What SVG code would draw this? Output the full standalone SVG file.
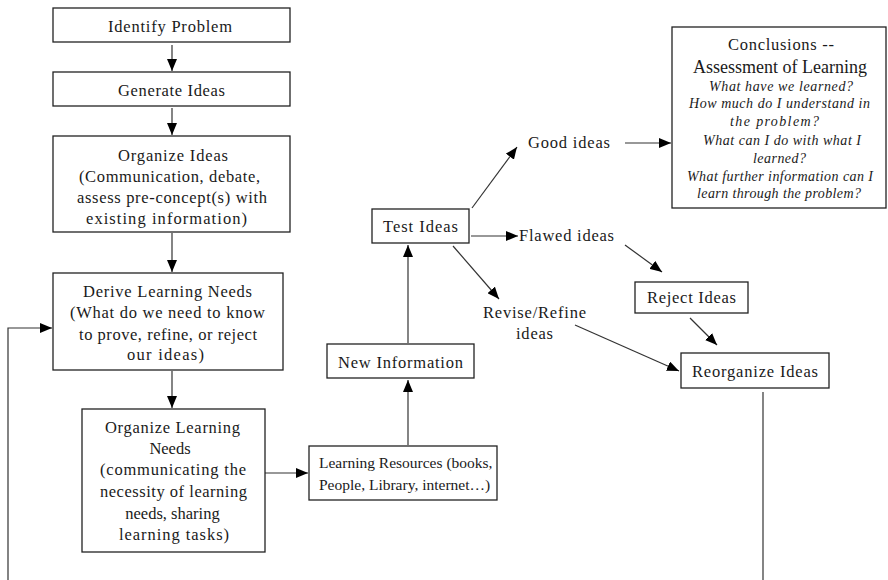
<svg xmlns="http://www.w3.org/2000/svg" width="888" height="580" viewBox="0 0 888 580">
<style>
  .box { fill: #fff; stroke: #222; stroke-width: 1.3; }
  .t { font-family: "Liberation Serif", "Times New Roman", serif; font-size: 16.5px; fill: #1a1a1a; text-anchor: middle; }
  .tl { text-anchor: start; }
  .i { font-family: "Liberation Serif", "Times New Roman", serif; font-size: 14px; font-style: italic; fill: #1a1a1a; text-anchor: middle; }
  .c { stroke: #333; stroke-width: 1.2; fill: none; }
  .a { marker-end: url(#ah); }
</style>
<defs>
  <marker id="ah" viewBox="0 0 12 10" refX="12" refY="5" markerWidth="12" markerHeight="10" markerUnits="userSpaceOnUse" orient="auto">
    <path d="M0,0 L12,5 L0,10 z" fill="#000"/>
  </marker>
</defs>
<rect width="888" height="580" fill="#fff"/>
<g id="connectors">
  <line class="c a" x1="172" y1="45" x2="172" y2="71"/>
  <line class="c a" x1="172" y1="108" x2="172" y2="135"/>
  <line class="c a" x1="172" y1="233" x2="172" y2="272"/>
  <line class="c a" x1="172" y1="371" x2="172" y2="408"/>
  <line class="c a" x1="265" y1="473" x2="308" y2="473"/>
  <line class="c a" x1="408" y1="445" x2="408" y2="380"/>
  <line class="c a" x1="408" y1="343" x2="408" y2="245"/>
  <line class="c a" x1="471" y1="236" x2="518" y2="236"/>
  <line class="c a" x1="472" y1="208" x2="517" y2="147"/>
  <line class="c a" x1="453" y1="246" x2="499" y2="299"/>
  <line class="c a" x1="625" y1="143" x2="671" y2="143"/>
  <line class="c a" x1="625" y1="245" x2="662" y2="272"/>
  <line class="c a" x1="690" y1="318" x2="717" y2="345"/>
  <line class="c a" x1="575" y1="325" x2="679" y2="371"/>
  <line class="c" x1="763" y1="392" x2="763" y2="580"/>
  <polyline class="c a" points="8,580 8,328 52,328"/>
</g>
<g id="identify">
  <rect class="box" x="53" y="8" width="237" height="34"/>
  <text class="t" x="170" y="32" textLength="124">Identify Problem</text>
</g>
<g id="generate">
  <rect class="box" x="53" y="72" width="237" height="34"/>
  <text class="t" x="171.5" y="96" textLength="107">Generate Ideas</text>
</g>
<g id="organize">
  <rect class="box" x="53" y="136" width="237" height="96"/>
  <text class="t" x="173" y="161" textLength="110">Organize Ideas</text>
  <text class="t" x="169.5" y="182" textLength="181">(Communication, debate,</text>
  <text class="t" x="172" y="203" textLength="190">assess pre-concept(s) with</text>
  <text class="t" x="166.5" y="224" textLength="161">existing information)</text>
</g>
<g id="derive">
  <rect class="box" x="53" y="273" width="230" height="97"/>
  <text class="t" x="167.5" y="297" textLength="169">Derive Learning Needs</text>
  <text class="t" x="167.5" y="318" textLength="195">(What do we need to know</text>
  <text class="t" x="168" y="340" textLength="178">to prove, refine, or reject</text>
  <text class="t" x="165.5" y="360" textLength="77">our ideas)</text>
</g>
<g id="orgneeds">
  <rect class="box" x="82" y="409" width="183" height="143"/>
  <text class="t" x="172.5" y="433" textLength="135">Organize Learning</text>
  <text class="t" x="170" y="454">Needs</text>
  <text class="t" x="173" y="475" textLength="146">(communicating the</text>
  <text class="t" x="173.5" y="497" textLength="147">necessity of learning</text>
  <text class="t" x="172.5" y="519">needs, sharing</text>
  <text class="t" x="174" y="540" textLength="110">learning tasks)</text>
</g>
<g id="resources">
  <rect class="box" x="309" y="446" width="188" height="54"/>
  <text class="t tl" x="319" y="468" style="font-size:15.5px">Learning Resources (books,</text>
  <text class="t tl" x="319" y="490" style="font-size:15.5px">People, Library, internet…)</text>
</g>
<g id="newinfo">
  <rect class="box" x="327" y="344" width="147" height="34"/>
  <text class="t" x="400.5" y="368" textLength="125">New Information</text>
</g>
<g id="test">
  <rect class="box" x="372" y="209" width="97" height="34"/>
  <text class="t" x="420.5" y="232" textLength="75">Test Ideas</text>
</g>
<g id="good">
  <text class="t tl" x="528" y="148" textLength="82">Good ideas</text>
</g>
<g id="flawed">
  <text class="t tl" x="519" y="241" textLength="95">Flawed ideas</text>
</g>
<g id="revise">
  <text class="t" x="534.5" y="318" textLength="103">Revise/Refine</text>
  <text class="t" x="534.5" y="339" textLength="37">ideas</text>
</g>
<g id="conclusions">
  <rect class="box" x="672" y="27" width="214" height="181"/>
  <text class="t" x="781" y="50" textLength="106">Conclusions --</text>
  <text class="t" x="780" y="73" style="font-size:18px" textLength="174">Assessment of Learning</text>
  <text class="i" x="781" y="91" textLength="144">What have we learned?</text>
  <text class="i" x="779.5" y="108" textLength="181">How much do I understand in</text>
  <text class="i" x="774.5" y="126" textLength="89">the problem?</text>
  <text class="i" x="782" y="145" textLength="158">What can I do with what I</text>
  <text class="i" x="779.5" y="163" textLength="53">learned?</text>
  <text class="i" x="780" y="181" textLength="186">What further information can I</text>
  <text class="i" x="779" y="198" textLength="164">learn through the problem?</text>
</g>
<g id="reject">
  <rect class="box" x="635" y="282" width="113" height="31"/>
  <text class="t" x="691.5" y="303" textLength="89">Reject Ideas</text>
</g>
<g id="reorganize">
  <rect class="box" x="681" y="353" width="148" height="35"/>
  <text class="t" x="755" y="377" textLength="126">Reorganize Ideas</text>
</g>
</svg>
